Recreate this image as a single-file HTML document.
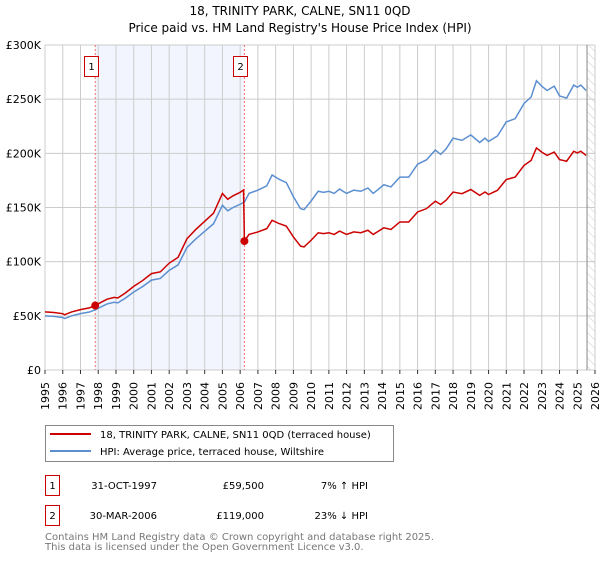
<!DOCTYPE html>
<html><head><meta charset="utf-8"><style>
body{margin:0;background:#fff;width:600px;height:560px;overflow:hidden;font-family:"DejaVu Sans","Liberation Sans",sans-serif}
svg text{font-family:"DejaVu Sans","Liberation Sans",sans-serif}
</style></head><body>
<svg id="c" width="600" height="560" xmlns="http://www.w3.org/2000/svg">
<defs><pattern id="hatch" width="6" height="6" patternUnits="userSpaceOnUse" patternTransform="rotate(-45)"><line x1="0" y1="0" x2="0" y2="6" stroke="#ccc" stroke-width="1"/></pattern></defs>
<text x="300" y="15" text-anchor="middle" font-size="12" fill="#000">18, TRINITY PARK, CALNE, SN11 0QD</text>
<text x="300" y="32" text-anchor="middle" font-size="12" fill="#000">Price paid vs. HM Land Registry's House Price Index (HPI)</text>
<g id="plot"></g>
<g>
<rect x="45.5" y="425.5" width="348" height="36" fill="#fff" stroke="#888"/>
<line x1="50" y1="434" x2="91" y2="434" stroke="#cc0000" stroke-width="2"/>
<text x="100" y="438" font-size="10">18, TRINITY PARK, CALNE, SN11 0QD (terraced house)</text>
<line x1="50" y1="451" x2="91" y2="451" stroke="#5b8fd0" stroke-width="2"/>
<text x="100" y="455" font-size="10">HPI: Average price, terraced house, Wiltshire</text>
</g>
<g font-size="10">
<rect x="45.5" y="475.5" width="14" height="20" fill="#fff" stroke="#cc0000"/>
<text x="52.5" y="489" text-anchor="middle">1</text>
<text x="157" y="489" text-anchor="end">31-OCT-1997</text>
<text x="264" y="489" text-anchor="end">£59,500</text>
<text x="368" y="489" text-anchor="end">7% ↑ HPI</text>
<rect x="45.5" y="505.5" width="14" height="20" fill="#fff" stroke="#cc0000"/>
<text x="52.5" y="519" text-anchor="middle">2</text>
<text x="157" y="519" text-anchor="end">30-MAR-2006</text>
<text x="264" y="519" text-anchor="end">£119,000</text>
<text x="368" y="519" text-anchor="end">23% ↓ HPI</text>
</g>
<text x="45" y="540" font-size="10" fill="#777">Contains HM Land Registry data © Crown copyright and database right 2025.</text>
<text x="45" y="550" font-size="10" fill="#777">This data is licensed under the Open Government Licence v3.0.</text>
</svg>
<script>
const hpiYears=[1995.0,1995.5,1996.0,1996.1,1996.5,1997.0,1997.5,1997.83,1998.0,1998.5,1998.9,1999.1,1999.5,2000.0,2000.5,2001.0,2001.5,2002.0,2002.5,2003.0,2003.5,2004.0,2004.5,2005.0,2005.3,2005.6,2006.0,2006.24,2006.5,2007.0,2007.5,2007.8,2008.2,2008.6,2009.0,2009.4,2009.6,2010.0,2010.4,2010.7,2011.0,2011.3,2011.6,2012.0,2012.4,2012.8,2013.2,2013.5,2013.8,2014.1,2014.5,2015.0,2015.5,2016.0,2016.5,2017.0,2017.3,2017.6,2018.0,2018.5,2019.0,2019.5,2019.8,2020.0,2020.5,2021.0,2021.5,2022.0,2022.4,2022.7,2023.0,2023.3,2023.7,2024.0,2024.4,2024.8,2025.0,2025.2,2025.5];
const hpiValues=[50,49.5,48.5,47.5,50,52,53.5,55.5,57,61,62.5,62,66,72,77,83,84.5,92,97,113,121,128,135,152,147,150,153,155,163,166,170,180,176,173,160,149,148,156,165,164,165,163,167,163,166,165,168,163,167,171,169,178,178,190,194,203,199,204,214,212,217,210,214,211,216,229,232,246,252,267,262,258,262,253,251,263,261,263,258];
const saleYears=[1997.83,2006.24];
const salePrices=[59.5,119];
const saleLabels=["1","2"];
const yTicks=[0,50,100,150,200,250,300];
const yTickLabels=["£0","£50K","£100K","£150K","£200K","£250K","£300K"];
const xTicks=[1995,1996,1997,1998,1999,2000,2001,2002,2003,2004,2005,2006,2007,2008,2009,2010,2011,2012,2013,2014,2015,2016,2017,2018,2019,2020,2021,2022,2023,2024,2025,2026];

const X0=45,X1=595,Y0=370,Y1=45;
const xs=y=>X0+(y-1995)/(2026-1995)*(X1-X0);
const ys=v=>Y0-v/300*(Y0-Y1);
const NS="http://www.w3.org/2000/svg";
const g=document.getElementById('plot');
function mk(t,a,p){const e=document.createElementNS(NS,t);for(const k in a)e.setAttribute(k,a[k]);(p||g).appendChild(e);return e;}

let e=mk('rect',{x:xs(saleYears[0]),y:Y1,width:xs(saleYears[1])-xs(saleYears[0]),height:Y0-Y1,fill:'#f2f5fd'});


e=mk('rect',{x:xs(2025.55),y:Y1,width:X1-xs(2025.55),height:Y0-Y1,fill:'url(#hatch)'});



yTicks.forEach((v,i)=>{
  const l=mk('line',{x1:X0,x2:X1,y1:ys(v),y2:ys(v),stroke:'#ccc','stroke-width':1});
  
  
  const t=mk('text',{x:X0-4,y:ys(v)+4,'text-anchor':'end','font-size':11});
  t.textContent=yTickLabels[i];
  
  
});
xTicks.forEach(yr=>{
  const x=xs(yr);
  const l=mk('line',{x1:x,x2:x,y1:Y1,y2:Y0,stroke:'#ccc','stroke-width':1});
  
  
  mk('line',{x1:x,x2:x,y1:Y0,y2:Y0+4,stroke:'#333','stroke-width':1});
  const t=mk('text',{x:0,y:0,'text-anchor':'end','font-size':11,transform:`translate(${x+4},${Y0+12}) rotate(-90)`});
  t.textContent=yr;
  
  
});
e=mk('line',{x1:xs(2025.55),x2:xs(2025.55),y1:Y1,y2:Y0,stroke:'#888','stroke-width':1});

function hpiAt(t){for(let i=1;i<hpiYears.length;i++){if(t<=hpiYears[i]){const f=(t-hpiYears[i-1])/(hpiYears[i]-hpiYears[i-1]);return hpiValues[i-1]+f*(hpiValues[i]-hpiValues[i-1]);}}return hpiValues[hpiValues.length-1];}
const r1=salePrices[0]/hpiAt(saleYears[0]), r2=salePrices[1]/hpiAt(saleYears[1]);
let pts=[];
hpiYears.forEach((t,i)=>{ if(t<saleYears[1]) pts.push([xs(t),ys(hpiValues[i]*r1)]); });
pts.push([xs(saleYears[1]-0.05),ys(hpiAt(saleYears[1])*r1)]);
pts.push([xs(saleYears[1]),ys(salePrices[1])]);
hpiYears.forEach((t,i)=>{ if(t>saleYears[1]) pts.push([xs(t),ys(hpiValues[i]*r2)]); });

saleYears.forEach((t,i)=>{
  const x=xs(t);
  const l=mk('line',{x1:x,x2:x,y1:Y1,y2:Y0,stroke:'#f07070','stroke-width':1,'stroke-dasharray':'2,2'});
  
  
  const r=mk('rect',{x:Math.round(x)-10.5,y:56.5,width:14,height:20,fill:'#fff',stroke:'#cc0000'});
  
  
  const tx=mk('text',{x:Math.round(x)-3.5,y:70,'text-anchor':'middle','font-size':10});
  tx.textContent=saleLabels[i];
});

const hp=mk('polyline',{points:hpiYears.map((t,i)=>xs(t)+','+ys(hpiValues[i])).join(' '),fill:'none',stroke:'#5b8fd0','stroke-width':1.5});


const pp=mk('polyline',{points:pts.map(p=>p.join(',')).join(' '),fill:'none',stroke:'#cc0000','stroke-width':1.5});


saleYears.forEach((t,i)=>{
  const c=mk('circle',{cx:xs(t),cy:ys(salePrices[i]),r:4,fill:'#cc0000'});
  
  
});
</script>
</body></html>
